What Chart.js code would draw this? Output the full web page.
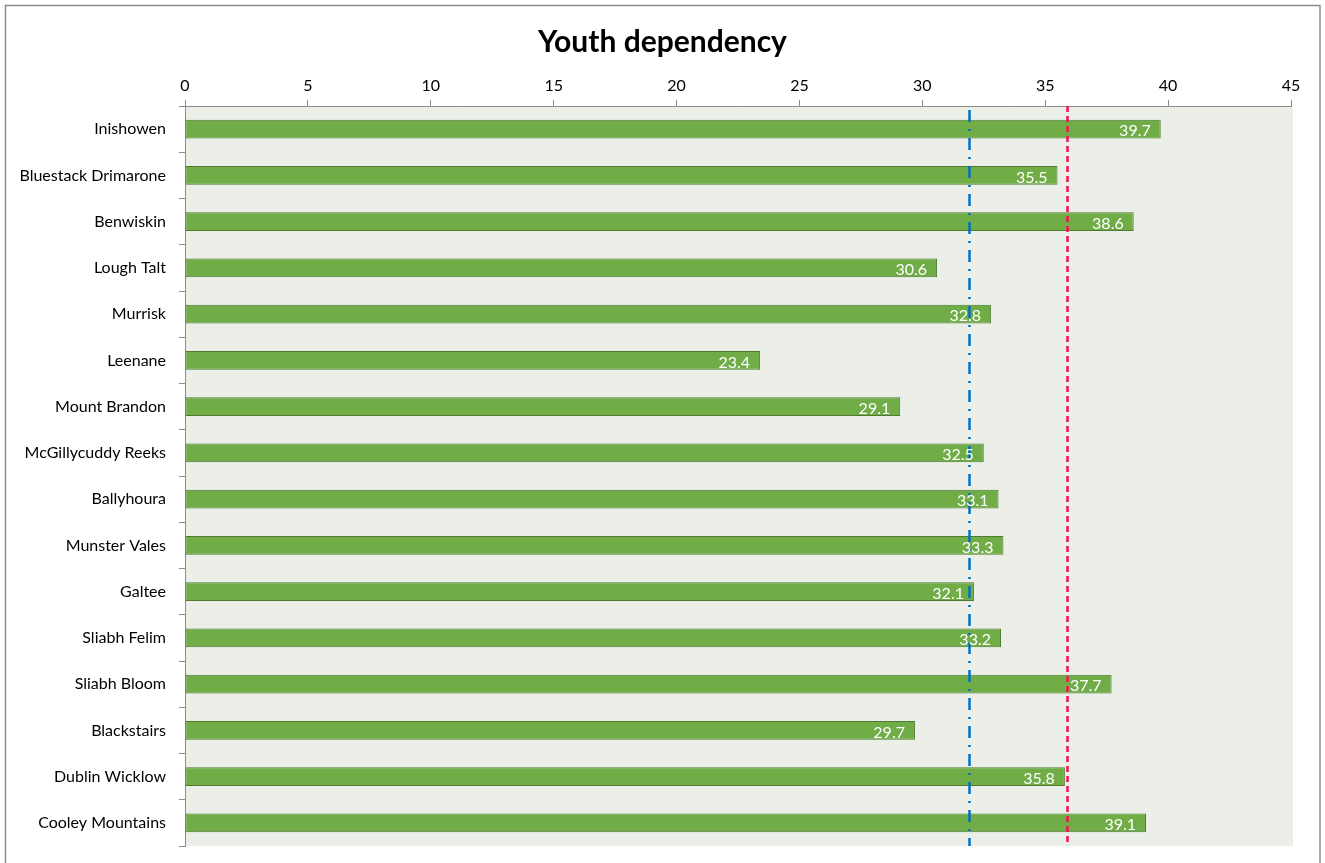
<!DOCTYPE html>
<html>
<head>
<meta charset="utf-8">
<script src="https://cdn.jsdelivr.net/npm/chart.js@4"></script>
<style>
html,body{margin:0;padding:0;background:#fff;}
#wrap{position:absolute;left:0;top:0;width:1325px;height:863px;}
</style>
</head>
<body>
<div id="wrap"><canvas id="c" width="1325" height="863"></canvas></div>
<script>
const categories = ["Inishowen","Bluestack Drimarone","Benwiskin","Lough Talt","Murrisk","Leenane","Mount Brandon","McGillycuddy Reeks","Ballyhoura","Munster Vales","Galtee","Sliabh Felim","Sliabh Bloom","Blackstairs","Dublin Wicklow","Cooley Mountains"];
const youthDependency = [39.7,35.5,38.6,30.6,32.8,23.4,29.1,32.5,33.1,33.3,32.1,33.2,37.7,29.7,35.8,39.1];
const referenceLines = [31.9, 35.9];
const xTicks = [0,5,10,15,20,25,30,35,40,45];
const chartTitle = 'Youth dependency';

const FONT = "Lato, 'Open Sans', sans-serif";

const plotBg = {
  id:'plotBg',
  beforeDraw(chart){
    const {ctx, chartArea:a} = chart;
    ctx.save();
    ctx.strokeStyle = '#8c8c8c';
    ctx.lineWidth = 1.5;
    ctx.strokeRect(5.5, 5.5, 1314.5, 880);
    ctx.fillStyle = '#ebefe8';
    ctx.fillRect(a.left, a.top, a.right - a.left + 2, a.bottom - a.top);
    ctx.fillStyle = '#000';
    ctx.font = "bold 30px " + FONT;
    ctx.textAlign = 'center';
    ctx.textBaseline = 'middle';
    ctx.fillText(chartTitle, chart.width / 2, 42);
    ctx.restore();
  }
};

const refLines = {
  id:'refLines',
  afterDatasetsDraw(chart){
    const {ctx, chartArea:a, scales:{x}} = chart;
    ctx.save();
    ctx.strokeStyle = '#0070c0';
    ctx.lineWidth = 2.5;
    ctx.setLineDash([12,7,2,7]);
    let px = Math.round(x.getPixelForValue(referenceLines[0])) + 0.5;
    ctx.beginPath(); ctx.moveTo(px, a.top + 4); ctx.lineTo(px, a.bottom); ctx.stroke();
    ctx.strokeStyle = '#ff0a5a';
    ctx.setLineDash([6,4]);
    px = Math.round(x.getPixelForValue(referenceLines[1])) + 0.5;
    ctx.beginPath(); ctx.moveTo(px, a.top); ctx.lineTo(px, a.bottom); ctx.stroke();
    ctx.restore();
  }
};

const valueLabels = {
  id:'valueLabels',
  afterDraw(chart){
    const {ctx} = chart;
    const meta = chart.getDatasetMeta(0);
    ctx.save();
    ctx.fillStyle = '#ffffff';
    ctx.font = "16px " + FONT;
    ctx.textAlign = 'right';
    ctx.textBaseline = 'middle';
    meta.data.forEach((bar, i) => {
      ctx.fillText(youthDependency[i].toFixed(1), bar.x - 10, bar.y + 2);
    });
    ctx.restore();
  }
};

new Chart(document.getElementById('c'), {
  type:'bar',
  data:{
    labels:categories,
    datasets:[{
      data:youthDependency,
      backgroundColor:'#70ad47',
      borderColor:'#4f7a30',
      borderWidth:1,
      borderSkipped:false,
      categoryPercentage:1,
      barPercentage:0.41
    }]
  },
  options:{
    indexAxis:'y',
    responsive:false,
    animation:false,
    events:[],
    layout:{padding:{left:0,right:34,top:0,bottom:17}},
    plugins:{
      legend:{display:false},
      tooltip:{enabled:false},
      title:{display:false}
    },
    scales:{
      x:{
        position:'top',
        min:0, max:45,
        afterBuildTicks(s){ s.ticks = xTicks.map(v=>({value:v})); },
        afterFit(s){ s.height = 106; s.paddingLeft = 0; s.paddingRight = 0; },
        grid:{drawOnChartArea:false, drawTicks:true, tickLength:6, color:'#8c8c8c'},
        border:{display:true, color:'#8c8c8c'},
        ticks:{color:'#000', font:{family:FONT, size:16}, padding:5, maxRotation:0}
      },
      y:{
        afterFit(s){ s.width = 185; s.paddingTop = 0; s.paddingBottom = 0; },
        grid:{drawOnChartArea:false, drawTicks:true, tickLength:6, color:'#8c8c8c', offset:true},
        border:{display:true, color:'#8c8c8c'},
        ticks:{color:'#000', font:{family:FONT, size:16}, padding:13}
      }
    }
  },
  plugins:[plotBg, refLines, valueLabels]
});
</script>
</body>
</html>
